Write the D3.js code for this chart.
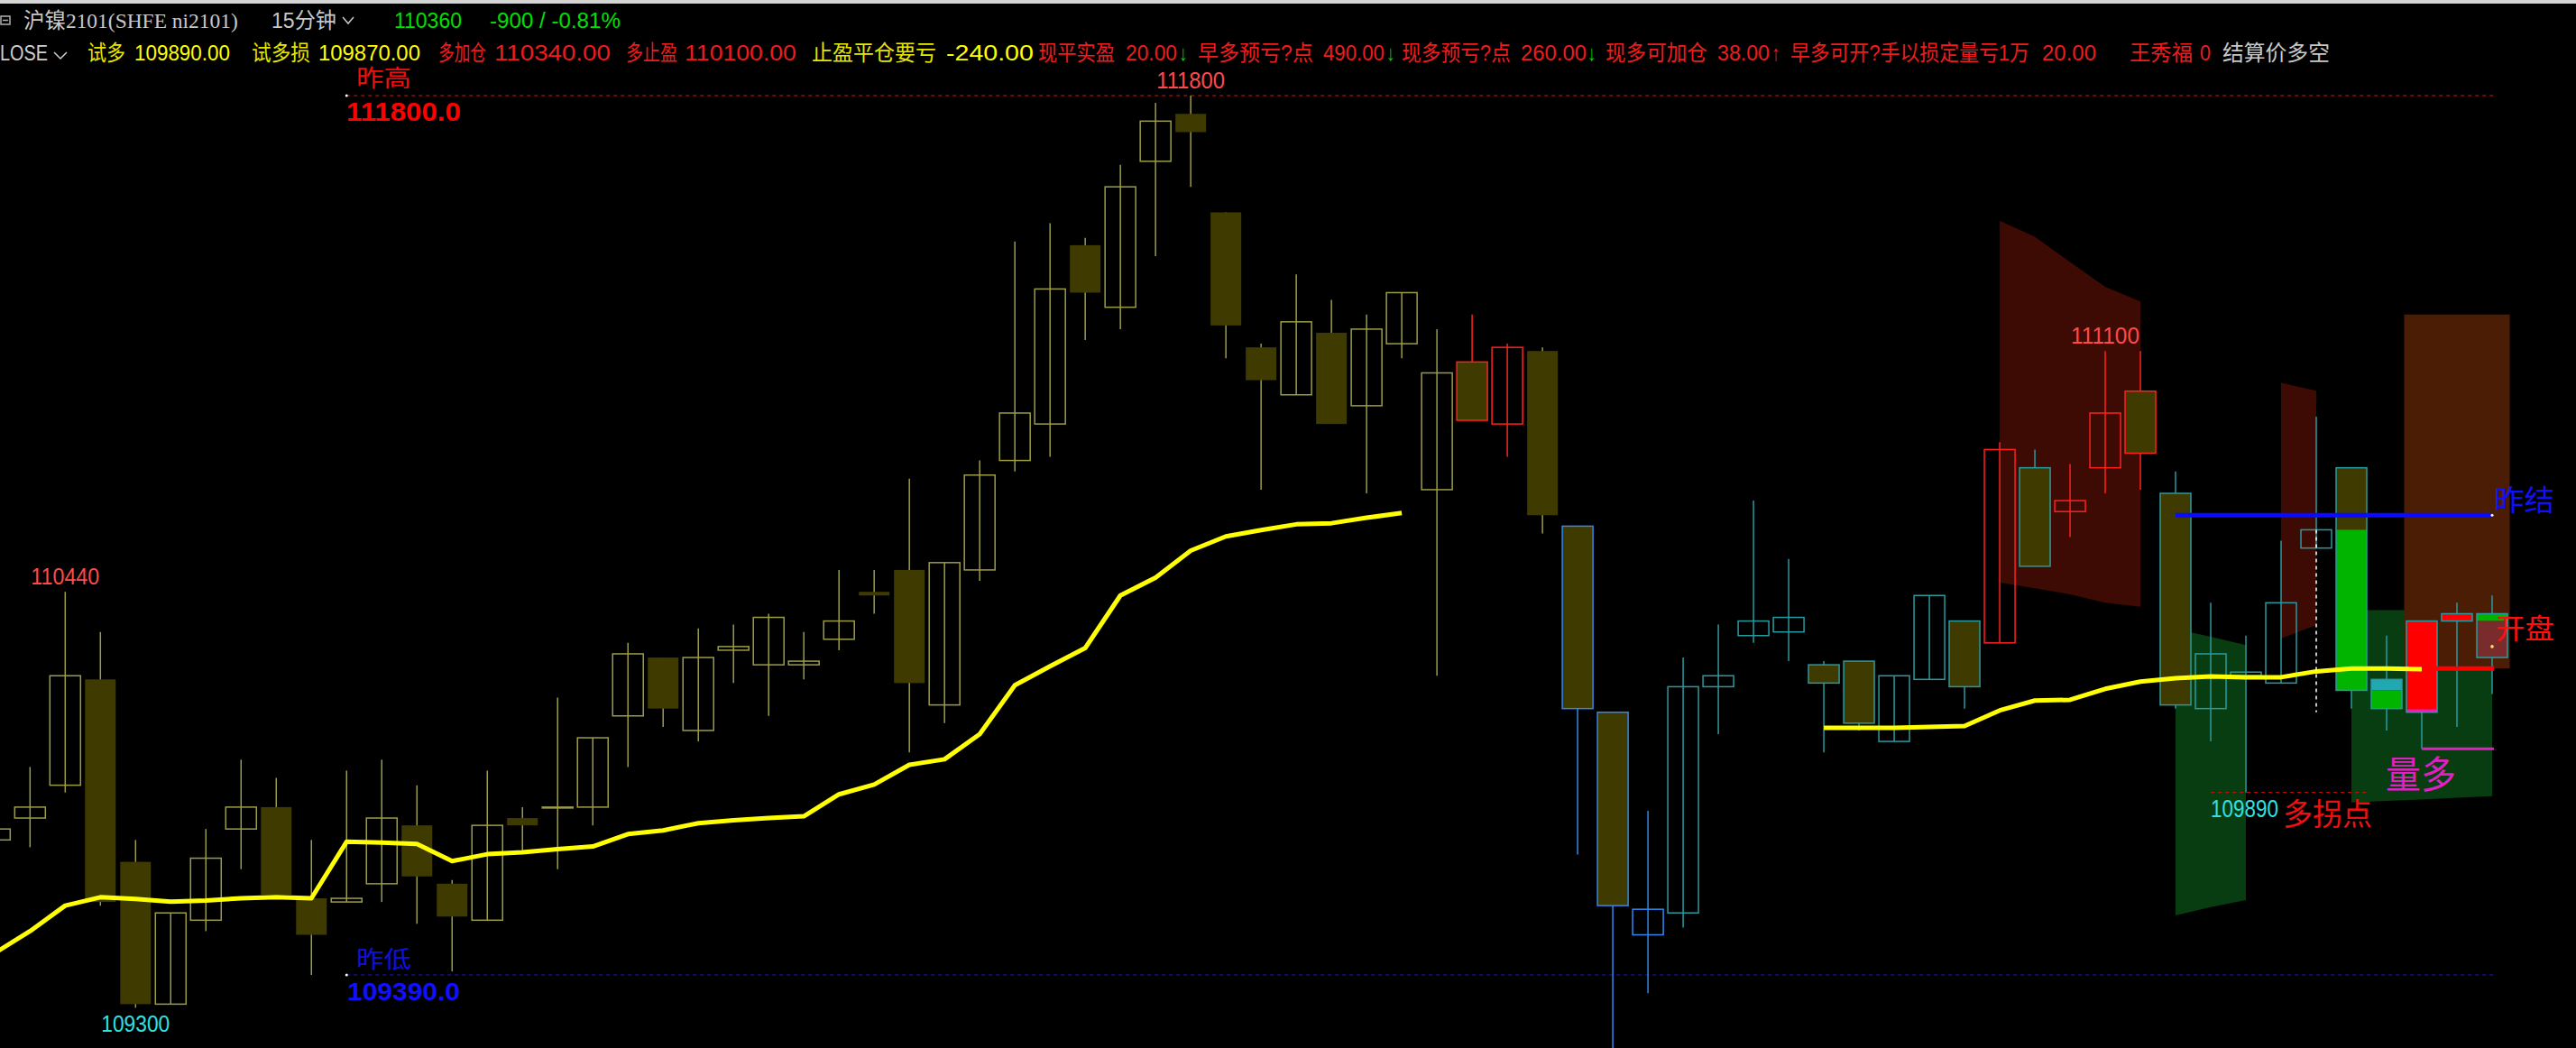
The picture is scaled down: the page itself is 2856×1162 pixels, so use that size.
<!DOCTYPE html>
<html>
<head>
<meta charset="utf-8">
<script src="https://d3js.org/d3.v7.min.js"></script>
<style>
  body { margin: 0; background: #000; overflow: hidden; }
  svg { display: block; }
  text { font-family: 'Liberation Sans', 'Noto Sans CJK SC', sans-serif; }
</style>
</head>
<body>
<div id="chart"></div>
<script>
// ni2101, 15 min bars (prices)
const opens = [109760, 109820, 109910, 110200, 109700, 109310, 109540, 109790, 109850, 109600,
  109590, 109640, 109800, 109640, 109540, 109820, 109850, 109850, 110100, 110260,
  110060, 110280, 110240, 110240, 110310, 110440, 110500, 110130, 110500, 110800,
  110900, 111390, 111220, 111620, 111750, 111480, 111110, 110980, 111150, 110950,
  111120, 110720, 111070, 110900, 111100, 110620, 110110, 109500, 109560, 110180,
  110320, 110330, 110240, 110250, 110030, 110200, 110360, 110300, 110780, 110660,
  110780, 110990, 110710, 110120, 110210, 110190, 110560, 110780, 110200, 110110,
  110360, 110380];
const highs = [109800, 109960, 110440, 110330, 109760, 109560, 109790, 109980, 109930, 109760,
  109950, 109980, 109910, 109650, 109950, 109850, 110150, 110040, 110300, 110260,
  110340, 110350, 110380, 110330, 110500, 110500, 110750, 110520, 110800, 111400,
  111450, 111410, 111610, 111780, 111800, 111480, 111120, 111310, 111240, 111200,
  111260, 111160, 111200, 111120, 111110, 110620, 110110, 109840, 110260, 110350,
  110690, 110530, 110250, 110250, 110210, 110430, 110360, 110850, 110830, 110790,
  111100, 111100, 110770, 110410, 110320, 110580, 110920, 110780, 110320, 110360,
  110410, 110430];
const lows = [109750, 109740, 109890, 109580, 109300, 109310, 109510, 109680, 109610, 109390,
  109590, 109590, 109530, 109400, 109540, 109730, 109680, 109800, 109960, 110070,
  110030, 110190, 110100, 110200, 110280, 110380, 110000, 110080, 110470, 110770,
  110810, 111130, 111160, 111360, 111550, 111080, 110720, 110980, 110900, 110710,
  111080, 110210, 110910, 110810, 110600, 109720, 109160, 109340, 109520, 110050,
  110300, 110250, 110000, 110060, 110030, 110200, 110120, 110300, 110510, 110590,
  110710, 110720, 110120, 110030, 109890, 110190, 110560, 110120, 110060, 110010,
  110070, 110160];
const closes = [109790, 109850, 110210, 109590, 109310, 109560, 109710, 109850, 109610, 109500,
  109600, 109820, 109660, 109550, 109800, 109800, 109850, 110040, 110270, 110120,
  110260, 110290, 110370, 110250, 110360, 110430, 110190, 110520, 110760, 110930,
  111270, 111260, 111550, 111730, 111700, 111170, 111020, 111180, 110900, 111160,
  111260, 111040, 110910, 111110, 110650, 110120, 109580, 109570, 110180, 110210,
  110360, 110370, 110190, 110080, 110210, 110430, 110180, 110830, 110510, 110690,
  110930, 110820, 110130, 110270, 110220, 110410, 110610, 110170, 110120, 110360,
  110380, 110260];
// bar outline group: o olive, r red, b blue, t teal
const tones = ('oooooooooooooooooooooooooooooooooooooooooo' + 'rr' + 'o' + 'bbb' +
  'ttttttttt' + 'r' + 't' + 'rrr' + 'tttttttttt').split('');
// moving average, three sessions
const ma = [109450, 109510, 109580, 109603, 109598, 109591, 109594, 109600, 109603, 109600,
  109755, 109753, 109749, 109702, 109721, 109726, 109735, 109742, 109776, 109786,
  109806, 109814, 109820, 109825, 109885, 109912, 109966, 109981, 110050, 110184,
  110236, 110286, 110430, 110479, 110553, 110592, 110609, 110625, 110628, 110643,
  110656, null, null, null, null, null, null, null, null, null,
  null, null, 110067, 110067, 110067, 110070, 110072, 110115, 110142, 110144,
  110174, 110194, 110203, 110208, 110206, 110206, 110222, 110230, 110230, 110228,
  null, null];

// signal blocks painted over some bars
const markIdx = [67, 68, 68, 69, 69, 70, 71, 71];
const markTop = [110610, 110200, 110170, 110360, 110118, 110380, 110380, 110360];
const markBot = [110170, 110170, 110120, 110110, 110110, 110360, 110360, 110260];
const markKind = ['g', 't', 'g', 'r', 'p', 'r', 'g', 'm'];

// shaded zones
const redAIdx = [57, 58, 59, 60, 61];
const redATop = [111457, 111413, 111344, 111276, 111236];
const redABot = [110465, 110450, 110433, 110410, 110399];
const redBIdx = [65, 66];
const redBTop = [111013, 110991];
const redBBot = [110312, 110349];
const greenAIdx = [62, 63, 64];
const greenATop = [110338, 110317, 110294];
const greenABot = [109553, 109576, 109595];
const greenBIdx = [67, 68, 69, 70, 71];
const greenBTop = [110390, 110390, 110390, 110390, 110390];
const greenBBot = [109863, 109867, 109871, 109876, 109880];
const brownIdx = [69, 71];
const brownTop = 111200, brownBot = 110230;

// levels
const prevHigh = 111800, prevLow = 109390, prevSettle = 110650;
const openLevel = 110230, volLevel = 110010, turnLevel = 109890;
const hiLabelIdx = [2, 34, 60];
const loLabelIdx = [4];

// header texts
const row1Text = ['沪镍2101(SHFE ni2101)', '15分钟', '110360', '-900 / -0.81%'];
const row2Text = ['LOSE', '试多', '109890.00', '试多损', '109870.00', '多加仓', '110340.00',
  '多止盈', '110100.00', '止盈平仓要亏', '-240.00', '现平实盈', '20.00', '↓', '早多预亏?点',
  '490.00', '↓', '现多预亏?点', '260.00', '↓', '现多可加仓', '38.00', '↑',
  '早多可开?手以损定量亏1万', '20.00', '王秀福', '0', '结算价多空'];

// ---- layout / styles ----
const W = 2856, H = 1162;
const row1Pos = [[26, 264], [301, 373], [437, 512], [543, 688]];
const row1Col = ['#c8c8c8', '#c8c8c8', '#00e000', '#00e000'];
const row1Font = ['Liberation Serif, Noto Sans CJK SC, serif', null, null, null];
const row2Pos = [[0, 53], [97, 139], [149, 255], [279, 344], [353, 466], [486, 539], [548, 677],
  [694, 751], [759, 883], [900, 1038], [1049, 1146], [1151, 1236], [1248, 1305], [1307, 1317],
  [1328, 1456], [1467, 1535], [1537, 1547], [1554, 1675], [1686, 1759], [1760, 1770],
  [1780, 1893], [1904, 1962], [1964, 1974], [1985, 2250], [2264, 2324], [2361, 2431],
  [2439, 2451], [2464, 2583]];
const Y1 = '#e6e600', Y2 = '#ffff00', RD = '#ee1c1c', GR = '#00cc00';
const row2Col = ['#d0d0d0', Y1, Y2, Y1, Y2, RD, RD, RD, RD, Y1, Y2, RD, RD, GR, RD, RD, GR,
  RD, RD, GR, RD, RD, RD, RD, RD, RD, RD, '#c8c8c8'];

const toneCol = { o: '#9c9c48', r: '#ff2020', b: '#3388ee', t: '#2a9aa0' };
const markCol = { g: '#00b400', t: '#22a8b0', r: '#ff0000', p: '#e020c0', m: '#7a2c2c' };
const downFill = '#3e3a00';

const svg = d3.select('#chart')
  .append('svg')
  .attr('width', W)
  .attr('height', H)
  .style('background', '#000');

const x = d3.scaleLinear().domain([0, 71]).range([-5.7, 2763]);
const step = x(1) - x(0);
const bw = 34;
const y = d3.scaleLinear().domain([prevLow, prevHigh]).range([1081, 106]);

function zone(idx, top, bot, fill) {
  var pts = idx.map((d, k) => ({ i: d, t: top[k], b: bot[k] }));
  svg.append('path')
    .datum(pts)
    .attr('fill', fill)
    .attr('d', d3.area().x((d) => x(d.i)).y0((d) => y(d.b)).y1((d) => y(d.t)));
}

// zones go under everything
zone(greenBIdx, greenBTop, greenBBot, '#083d12');
svg.append('rect')
  .attr('x', x(brownIdx[0]) - step / 2)
  .attr('y', y(brownTop))
  .attr('width', x(brownIdx[1]) - x(brownIdx[0]) + step)
  .attr('height', y(brownBot) - y(brownTop))
  .attr('fill', '#4c1d05');
zone(redAIdx, redATop, redABot, '#3d0b03');
zone(redBIdx, redBTop, redBBot, '#3d0b03');
zone(greenAIdx, greenATop, greenABot, '#083d12');

// yesterday high / low dashed lines
const x0 = x(10), x1 = x(71) + 2;
svg.append('line').attr('x1', x0).attr('x2', x1).attr('y1', y(prevHigh)).attr('y2', y(prevHigh))
  .attr('stroke', '#e01010').attr('stroke-width', 1).attr('stroke-dasharray', '4,4');
svg.append('line').attr('x1', x0).attr('x2', x1).attr('y1', y(prevLow)).attr('y2', y(prevLow))
  .attr('stroke', '#1818d0').attr('stroke-width', 1).attr('stroke-dasharray', '4,4');
svg.append('circle').attr('cx', x0).attr('cy', y(prevHigh)).attr('r', 1.5).attr('fill', '#fff');
svg.append('circle').attr('cx', x0).attr('cy', y(prevLow)).attr('r', 1.5).attr('fill', '#fff');

var bars = d3.range(opens.length).map((i) => ({
  i: i, o: opens[i], h: highs[i], l: lows[i], c: closes[i], tone: tones[i]
}));

var g = svg.append('g');

g.selectAll('.wick')
  .data(bars)
  .enter().append('line')
  .attr('x1', (d) => x(d.i)).attr('x2', (d) => x(d.i))
  .attr('y1', (d) => y(d.h)).attr('y2', (d) => y(d.l))
  .attr('stroke', (d) => toneCol[d.tone])
  .attr('stroke-width', 1.5);

function bodyTop(d) { return y(Math.max(d.o, d.c)); }
function bodyH(d) { return Math.max(1, Math.abs(y(d.o) - y(d.c))); }

// filled bodies for falling bars (black inside for rising ones)
g.selectAll('.body')
  .data(bars)
  .enter().append('rect')
  .attr('x', (d) => x(d.i) - bw / 2)
  .attr('y', bodyTop)
  .attr('width', bw)
  .attr('height', bodyH)
  .attr('fill', (d) => d.c < d.o ? downFill : '#000')
  .attr('fill-opacity', (d) => d.c < d.o ? 1 : 0);

// signal blocks
g.selectAll('.mark')
  .data(markIdx.map((d, k) => ({ i: d, t: markTop[k], b: markBot[k], k: markKind[k] })))
  .enter().append('rect')
  .attr('x', (d) => x(d.i) - bw / 2)
  .attr('y', (d) => y(d.t))
  .attr('width', bw)
  .attr('height', (d) => Math.max(3, y(d.b) - y(d.t)))
  .attr('fill', (d) => markCol[d.k]);

// outlines
g.selectAll('.edge')
  .data(bars.filter((d) => !(d.tone == 'o' && d.c < d.o)))
  .enter().append('rect')
  .attr('x', (d) => x(d.i) - bw / 2)
  .attr('y', bodyTop)
  .attr('width', bw)
  .attr('height', bodyH)
  .attr('fill', 'none')
  .attr('stroke', (d) => toneCol[d.tone])
  .attr('stroke-width', 1.5);

// moving average
svg.append('path')
  .datum(ma)
  .attr('fill', 'none')
  .attr('stroke', '#ffff00')
  .attr('stroke-width', 5)
  .attr('stroke-linejoin', 'round')
  .attr('d', d3.line().defined((d) => d != null).x((d, i) => x(i)).y((d) => y(d)));

// level lines on the right
svg.append('line').attr('x1', x(62)).attr('x2', x(71)).attr('y1', y(prevSettle)).attr('y2', y(prevSettle))
  .attr('stroke', '#0a0aff').attr('stroke-width', 5);
svg.append('circle').attr('cx', x(71)).attr('cy', y(prevSettle)).attr('r', 1.5).attr('fill', '#fff');
svg.append('line').attr('x1', x(69)).attr('x2', x(71) + 2).attr('y1', y(openLevel)).attr('y2', y(openLevel))
  .attr('stroke', '#ff0000').attr('stroke-width', 5);
svg.append('line').attr('x1', x(69)).attr('x2', x(71) + 2).attr('y1', y(volLevel)).attr('y2', y(volLevel))
  .attr('stroke', '#e020c0').attr('stroke-width', 3);
svg.append('line').attr('x1', x(63)).attr('x2', x(67) + bw / 2).attr('y1', y(turnLevel)).attr('y2', y(turnLevel))
  .attr('stroke', '#e01010').attr('stroke-width', 1).attr('stroke-dasharray', '4,4');
svg.append('line').attr('x1', x(66)).attr('x2', x(66)).attr('y1', y(closes[66])).attr('y2', y(110110))
  .attr('stroke', '#ffffff').attr('stroke-width', 1.5).attr('stroke-dasharray', '4,4');
svg.append('circle').attr('cx', x(71)).attr('cy', y(110290)).attr('r', 1.8).attr('fill', '#ffe060');

// text squeezed sideways to fit [xa, xb] like the squashed screen font
function label(t, xa, xb, yb, size, color, weight, family) {
  var el = svg.append('text')
    .attr('x', 0)
    .attr('y', 0)
    .attr('font-size', size)
    .attr('font-weight', weight || 'normal')
    .attr('fill', color)
    .text(t);
  if (family) el.style('font-family', family);
  var w = el.node().getComputedTextLength() || 1;
  el.attr('transform', 'translate(' + xa + ',' + yb + ') scale(' + ((xb - xa) / w) + ',1)');
}

// high / low markers over the bars
hiLabelIdx.forEach((i) => {
  label(String(highs[i]), x(i) - 38, x(i) + 38, y(highs[i]) - 8, 25, '#ff4a4a');
});
loLabelIdx.forEach((i) => {
  label(String(lows[i]), x(i) - 38, x(i) + 38, y(lows[i]) + 27, 25, '#33e0e0');
});

label('昨高', 395, 456, y(prevHigh) - 10, 26, '#ee1010');
label(prevHigh.toFixed(1), 384, 511, y(prevHigh) + 28, 30, '#ff0000', 'bold');
label('昨低', 395, 456, y(prevLow) - 8, 26, '#1010e0');
label(prevLow.toFixed(1), 385, 510, y(prevLow) + 28, 28, '#1010ff', 'bold');

label('昨结', 2765, 2832, y(prevSettle) - 5, 32, '#1010ff');
label('开盘', 2767, 2832, y(openLevel) - 33, 31, '#ff1010');
label('量多', 2645, 2723, y(volLevel) + 44, 42, '#e020c0');
label(String(turnLevel), x(63), x(63) + 75, y(turnLevel) + 27, 28, '#33e0e0');
label('多拐点', 2531, 2630, y(turnLevel) + 36, 34, '#ee1010');

// header
svg.append('rect').attr('x', 0).attr('y', 0).attr('width', W).attr('height', 4).attr('fill', '#d4d4d4');
svg.append('rect').attr('x', 1).attr('y', 18).attr('width', 10).attr('height', 9)
  .attr('fill', 'none').attr('stroke', '#b0b0b0').attr('stroke-width', 1.5);
svg.append('line').attr('x1', 3).attr('x2', 9).attr('y1', 22.5).attr('y2', 22.5)
  .attr('stroke', '#b0b0b0').attr('stroke-width', 1.5);

row1Text.forEach((t, k) => {
  label(t, row1Pos[k][0], row1Pos[k][1], 31, 24, row1Col[k], null, row1Font[k]);
});
row2Text.forEach((t, k) => {
  label(t, row2Pos[k][0], row2Pos[k][1], 67, 24, row2Col[k]);
});

// little dropdown chevrons
svg.append('path').attr('d', 'M380,19 L386,26 L392,19').attr('fill', 'none')
  .attr('stroke', '#c8c8c8').attr('stroke-width', 1.5);
svg.append('path').attr('d', 'M60,58 L67,65 L74,58').attr('fill', 'none')
  .attr('stroke', '#d0d0d0').attr('stroke-width', 1.5);
</script>
</body>
</html>
